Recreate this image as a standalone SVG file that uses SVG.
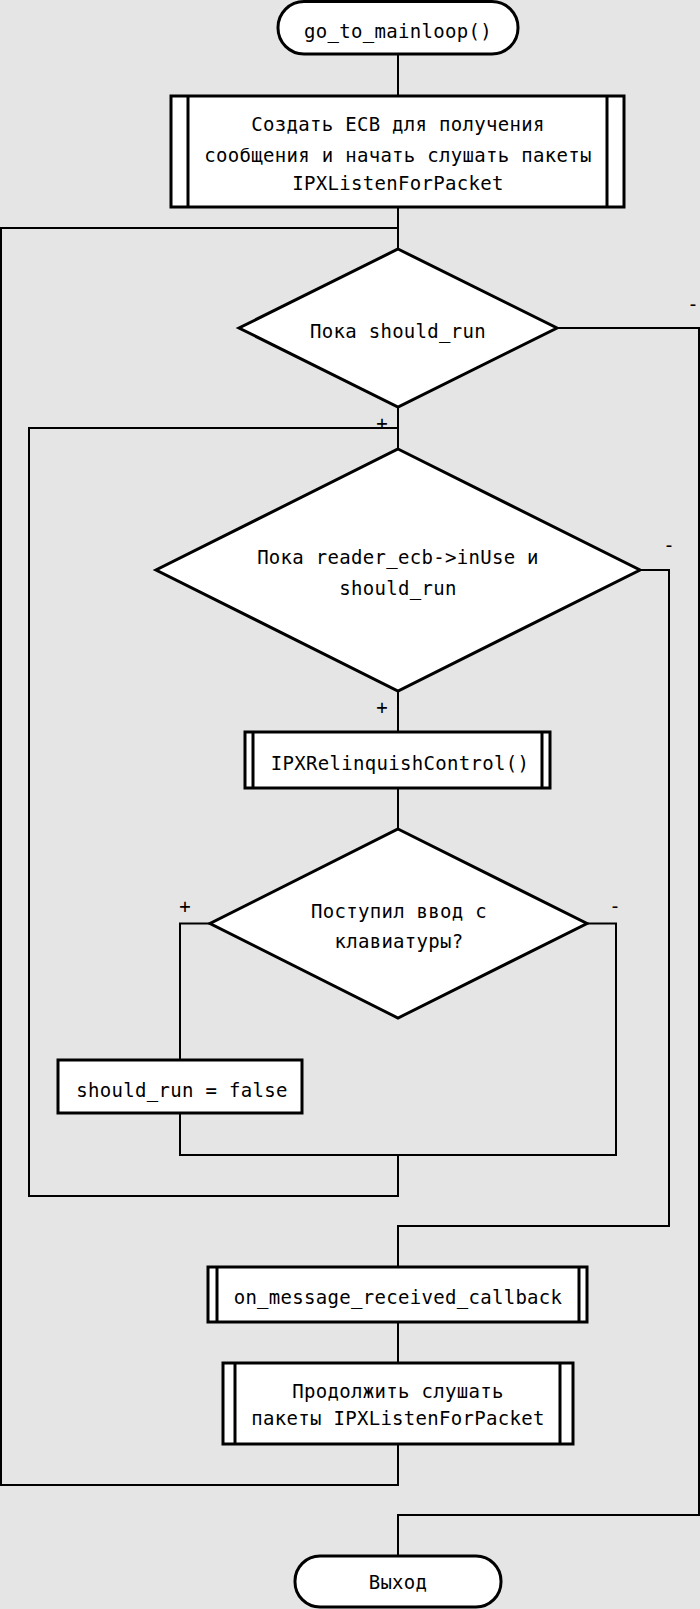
<svg xmlns="http://www.w3.org/2000/svg" width="700" height="1609" viewBox="0 0 700 1609">
<style>
.bg{fill:#e5e5e5}
.n{fill:#ffffff;stroke:#000;stroke-width:3}
.il{fill:none;stroke:#000;stroke-width:3}
.c{fill:none;stroke:#000;stroke-width:2}
text{font-family:"DejaVu Sans Mono","Liberation Mono",monospace;font-size:19px;letter-spacing:0.3px;fill:#000}
.m{text-anchor:middle}
</style>
<rect class="bg" x="0" y="0" width="700" height="1609"/>
<g id="connectors">
<path class="c" d="M398,54 V96"/>
<path class="c" d="M398,207 V249"/>
<path class="c" d="M398,1444 V1485 H1 V228 H398"/>
<path class="c" d="M557,328 H699 V1515 H398 V1556"/>
<path class="c" d="M398,407 V449"/>
<path class="c" d="M398,1155 V1196 H29 V428 H398"/>
<path class="c" d="M640,570 H669 V1226 H398 V1267"/>
<path class="c" d="M398,691 V732"/>
<path class="c" d="M398,788 V829"/>
<path class="c" d="M210,923.5 H180 V1060"/>
<path class="c" d="M180,1113 V1155 H616 V923.5 H587"/>
<path class="c" d="M398,1322 V1363"/>
<text class="m" x="693" y="311">-</text>
<text class="m" x="382" y="430">+</text>
<text class="m" x="669" y="552">-</text>
<text class="m" x="382" y="714">+</text>
<text class="m" x="185" y="913">+</text>
<text class="m" x="615" y="913">-</text>
</g>
<g id="start">
<rect class="n" x="278" y="1.5" width="240" height="52.5" rx="26"/>
<text class="m" x="398" y="38">go_to_mainloop()</text>
</g>
<g id="create_ecb">
<rect class="n" x="171" y="96" width="453" height="111"/>
<path class="il" d="M188,96 V207 M607,96 V207"/>
<text class="m" x="398" y="131">Создать ECB для получения</text>
<text class="m" x="398" y="162">сообщения и начать слушать пакеты</text>
<text class="m" x="398" y="190">IPXListenForPacket</text>
</g>
<g id="while_should_run">
<polygon class="n" points="398,249 557,328 398,407 239,328"/>
<text class="m" x="398" y="338">Пока should_run</text>
</g>
<g id="while_in_use">
<polygon class="n" points="398,449 640,570 398,691 156,570"/>
<text class="m" x="398" y="564">Пока reader_ecb-&gt;inUse и</text>
<text class="m" x="398" y="595">should_run</text>
</g>
<g id="relinquish">
<rect class="n" x="245" y="732" width="305" height="56"/>
<path class="il" d="M253,732 V788 M542,732 V788"/>
<text class="m" x="400" y="770">IPXRelinquishControl()</text>
</g>
<g id="keyboard">
<polygon class="n" points="398,829 587,923.5 398,1018 210,923.5"/>
<text class="m" x="399" y="918">Поступил ввод с</text>
<text class="m" x="399" y="948">клавиатуры?</text>
</g>
<g id="set_false">
<rect class="n" x="58" y="1060" width="244" height="53"/>
<text class="m" x="182" y="1097">should_run = false</text>
</g>
<g id="callback">
<rect class="n" x="208" y="1267" width="379" height="55"/>
<path class="il" d="M217,1267 V1322 M579,1267 V1322"/>
<text class="m" x="398" y="1304">on_message_received_callback</text>
</g>
<g id="continue_listen">
<rect class="n" x="223" y="1363" width="350" height="81"/>
<path class="il" d="M235,1363 V1444 M560,1363 V1444"/>
<text class="m" x="398" y="1398">Продолжить слушать</text>
<text class="m" x="398" y="1425">пакеты IPXListenForPacket</text>
</g>
<g id="exit">
<rect class="n" x="295" y="1556" width="206" height="51" rx="25"/>
<text class="m" x="398" y="1589">Выход</text>
</g>
</svg>
